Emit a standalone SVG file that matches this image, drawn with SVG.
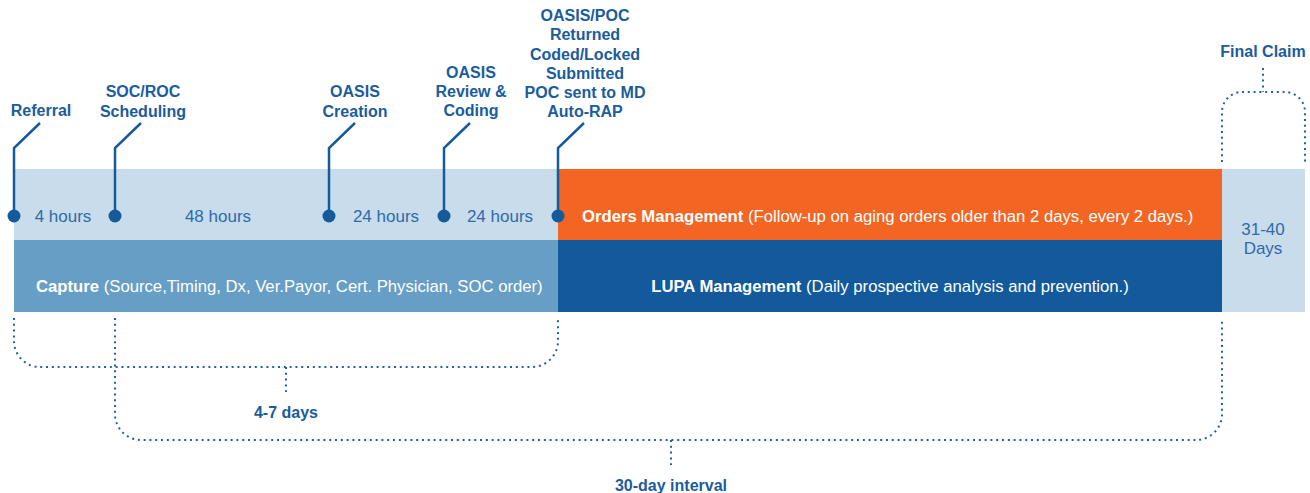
<svg xmlns="http://www.w3.org/2000/svg" width="1310" height="493" viewBox="0 0 1310 493">
  <style>
    .lbl { font-family: "Liberation Sans", Arial, sans-serif; font-weight: bold; font-size: 16px; fill: #1a5c9d; text-anchor: middle; }
    .hrs { font-family: "Liberation Sans", Arial, sans-serif; font-size: 17px; fill: #2d6ba9; text-anchor: middle; }
    .bar { font-family: "Liberation Sans", Arial, sans-serif; font-size: 16.7px; fill: #ffffff; }
    .bar .b { font-weight: bold; }
    .lead { fill: none; stroke: #155a9b; stroke-width: 2.5; }
    .dot { fill: #155a9b; }
    .brk { fill: none; stroke: #1f63a3; stroke-width: 2; stroke-dasharray: 2 3.8; }
  </style>

  <!-- timeline bands -->
  <g id="bands">
    <rect x="14" y="169" width="544" height="71" fill="#c9dcec"/>
    <rect x="14" y="240" width="544" height="72" fill="#679ec5"/>
    <rect x="558" y="169" width="664" height="71" fill="#f26522"/>
    <rect x="558" y="240" width="664" height="72" fill="#135a9c"/>
    <rect x="1222" y="169" width="83" height="143" fill="#c9dcec"/>
  </g>

  <g id="band-text">
    <text class="hrs" x="63" y="222">4 hours</text>
    <text class="hrs" x="218" y="222">48 hours</text>
    <text class="hrs" x="386" y="222">24 hours</text>
    <text class="hrs" x="500" y="222">24 hours</text>
    <text class="bar" x="582" y="222"><tspan class="b">Orders Management</tspan> (Follow-up on aging orders older than 2 days, every 2 days.)</text>
    <text class="bar" x="36" y="292"><tspan class="b">Capture</tspan> (Source,Timing, Dx, Ver.Payor, Cert. Physician, SOC order)</text>
    <text class="bar" x="890" y="292" text-anchor="middle"><tspan class="b">LUPA Management</tspan> (Daily prospective analysis and prevention.)</text>
    <text class="hrs" x="1263" y="235">31-40</text>
    <text class="hrs" x="1263" y="254">Days</text>
  </g>

  <!-- milestone nodes -->
  <g id="referral">
    <path class="lead" d="M14 216 V148 L40 123"/>
    <circle class="dot" cx="14" cy="216" r="6.5"/>
    <text class="lbl" x="41" y="116">Referral</text>
  </g>
  <g id="soc-roc">
    <path class="lead" d="M115 216 V148 L141 123"/>
    <circle class="dot" cx="115" cy="216" r="6.5"/>
    <text class="lbl" x="143" y="97">SOC/ROC</text>
    <text class="lbl" x="143" y="117">Scheduling</text>
  </g>
  <g id="oasis-creation">
    <path class="lead" d="M329 216 V148 L355 123"/>
    <circle class="dot" cx="329" cy="216" r="6.5"/>
    <text class="lbl" x="355" y="97">OASIS</text>
    <text class="lbl" x="355" y="117">Creation</text>
  </g>
  <g id="oasis-review">
    <path class="lead" d="M444 216 V148 L470 123"/>
    <circle class="dot" cx="444" cy="216" r="6.5"/>
    <text class="lbl" x="471" y="78">OASIS</text>
    <text class="lbl" x="471" y="97">Review &amp;</text>
    <text class="lbl" x="471" y="116">Coding</text>
  </g>
  <g id="oasis-poc">
    <path class="lead" d="M558 216 V148 L584 123"/>
    <circle class="dot" cx="558" cy="216" r="6.5"/>
    <text class="lbl" x="585" y="21">OASIS/POC</text>
    <text class="lbl" x="585" y="40">Returned</text>
    <text class="lbl" x="585" y="60">Coded/Locked</text>
    <text class="lbl" x="585" y="79">Submitted</text>
    <text class="lbl" x="585" y="98">POC sent to MD</text>
    <text class="lbl" x="585" y="117">Auto-RAP</text>
  </g>
  <g id="final-claim">
    <text class="lbl" x="1263" y="57">Final Claim</text>
  </g>

  <!-- interval brackets -->
  <g id="connectors">
    <path class="brk" d="M14 318 V341 A26 26 0 0 0 40 367 H532 A26 26 0 0 0 558 341 V318"/>
    <path class="brk" d="M286 367 V392"/>
    <path class="brk" d="M115 318 V414 A26 26 0 0 0 141 440 H1196 A26 26 0 0 0 1222 414 V318"/>
    <path class="brk" d="M671 440 V465"/>
    <path class="brk" d="M1222 162 V112 A20 20 0 0 1 1242 92 H1285 A20 20 0 0 1 1305 112 V162"/>
    <path class="brk" d="M1263 68 V92"/>
  </g>

  <g id="interval-labels">
    <text class="lbl" x="286" y="418">4-7 days</text>
    <text class="lbl" x="671" y="491">30-day interval</text>
  </g>
</svg>
